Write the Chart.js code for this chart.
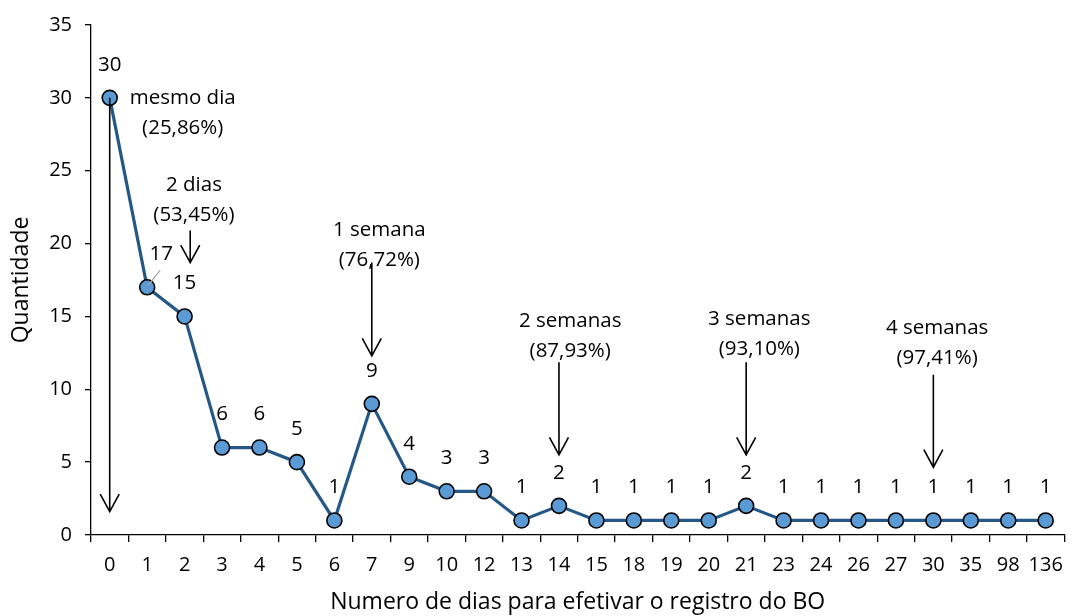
<!DOCTYPE html>
<html>
<head>
<meta charset="utf-8">
<script src="https://cdn.jsdelivr.net/npm/chart.js@4.4.1/dist/chart.umd.min.js"></script>
<style>
  html, body { margin: 0; padding: 0; background: #ffffff; }
  #wrap { width: 1074px; height: 616px; }
</style>
</head>
<body>
<div id="wrap"><canvas id="c" width="1074" height="616"></canvas></div>
<script>
// Days until the police report (BO) was filed, and how many cases took each
const days = ['0','1','2','3','4','5','6','7','9','10','12','13','14','15','18','19','20','21','23','24','26','27','30','35','98','136'];
const counts = [30,17,15,6,6,5,1,9,4,3,3,1,2,1,1,1,1,2,1,1,1,1,1,1,1,1];
const yTicks = [0,5,10,15,20,25,30,35];

// Cumulative milestones: category index where the arrow points, arrow span (in counts) and text
const milestoneAt = [0, 2.15, 7, 12, 17, 22];
const milestoneFrom = [30, 20.9, 18.7, 11.85, 11.85, 11.0];
const milestoneTo = [1.6, 18.7, 12.3, 5.5, 5.5, 4.65];
const milestoneName = ['mesmo dia', '2 dias', '1 semana', '2 semanas', '3 semanas', '4 semanas'];
const milestoneShare = ['(25,86%)', '(53,45%)', '(76,72%)', '(87,93%)', '(93,10%)', '(97,41%)'];
// Where each milestone caption sits (category index, count of its first line)
const captionAt = [1.95, 2.25, 7.2, 12.3, 17.35, 22.1];
const captionY = [30, 24.0, 20.9, 14.7, 14.8, 14.2];

const FONT = '"Open Sans", Lato, sans-serif';

const annotations = {
  id: 'annotations',
  afterDatasetsDraw(chart) {
    const ctx = chart.ctx;
    const xs = chart.scales.x, ys = chart.scales.y;
    const xAt = i => xs.getPixelForValue(0) + i * (xs.getPixelForValue(1) - xs.getPixelForValue(0));
    ctx.save();
    ctx.font = '20.5px ' + FONT;
    ctx.fillStyle = '#000';
    ctx.textAlign = 'center';
    ctx.textBaseline = 'middle';

    // value labels over each point
    const meta = chart.getDatasetMeta(0);
    meta.data.forEach((pt, i) => {
      if (i === 1) {
        // 17 sits up and to the right, tied to its point by a short leader
        ctx.strokeStyle = '#a6a6a6';
        ctx.lineWidth = 1.2;
        ctx.beginPath();
        ctx.moveTo(pt.x + 1, pt.y - 2);
        ctx.lineTo(pt.x + 13, pt.y - 17);
        ctx.stroke();
        ctx.fillText(String(counts[i]), pt.x + 14, pt.y - 33);
      } else {
        ctx.fillText(String(counts[i]), pt.x, pt.y - 33);
      }
    });

    // milestone arrows
    ctx.strokeStyle = '#000';
    ctx.lineWidth = 1.6;
    milestoneAt.forEach((m, k) => {
      const x = xAt(m);
      const y0 = ys.getPixelForValue(milestoneFrom[k]);
      const y1 = ys.getPixelForValue(milestoneTo[k]);
      ctx.beginPath();
      ctx.moveTo(x, y0);
      ctx.lineTo(x, y1);
      ctx.moveTo(x - 9.5, y1 - 17.5);
      ctx.lineTo(x, y1);
      ctx.lineTo(x + 9.5, y1 - 17.5);
      ctx.stroke();
    });

    // milestone captions
    captionAt.forEach((c, k) => {
      const x = xAt(c);
      const y = ys.getPixelForValue(captionY[k]);
      ctx.fillText(milestoneName[k], x, y);
      ctx.fillText(milestoneShare[k], x, y + 30);
    });
    ctx.restore();
  }
};

new Chart(document.getElementById('c'), {
  type: 'line',
  data: {
    labels: days,
    datasets: [{
      data: counts,
      borderColor: '#255886',
      borderWidth: 3.2,
      pointBackgroundColor: '#5b9bd5',
      pointBorderColor: '#000000',
      pointBorderWidth: 1.6,
      pointRadius: 7.5,
      tension: 0,
      fill: false
    }]
  },
  options: {
    responsive: false,
    animation: false,
    layout: { padding: { top: 24, right: 0, left: 0, bottom: 0 } },
    plugins: { legend: { display: false }, tooltip: { enabled: false } },
    scales: {
      x: {
        type: 'category',
        offset: true,
        afterFit(s) { s.height = 81; },
        grid: { display: true, drawOnChartArea: false, drawTicks: true, tickLength: 7, color: '#000', offset: true, lineWidth: 1.3 },
        border: { color: '#000', width: 1.3 },
        ticks: { color: '#000', font: { family: FONT, size: 20 }, padding: 11, maxRotation: 0, autoSkip: false },
        title: { display: true, text: 'Numero de dias para efetivar o registro do BO', color: '#000', font: { family: FONT, size: 23 }, padding: { top: 4, bottom: 0 } }
      },
      y: {
        min: 0, max: 35,
        afterFit(s) { s.width = 91; },
        afterBuildTicks(s) { s.ticks = yTicks.map(v => ({ value: v })); },
        grid: { display: true, drawOnChartArea: false, drawTicks: true, tickLength: 6, color: '#000', lineWidth: 1.3 },
        border: { color: '#000', width: 1.3 },
        ticks: { color: '#000', font: { family: FONT, size: 20 }, padding: 13 },
        title: { display: true, text: 'Quantidade', color: '#000', font: { family: FONT, size: 23 }, padding: { top: 8, bottom: 4 } }
      }
    }
  },
  plugins: [annotations]
});
</script>
</body>
</html>
